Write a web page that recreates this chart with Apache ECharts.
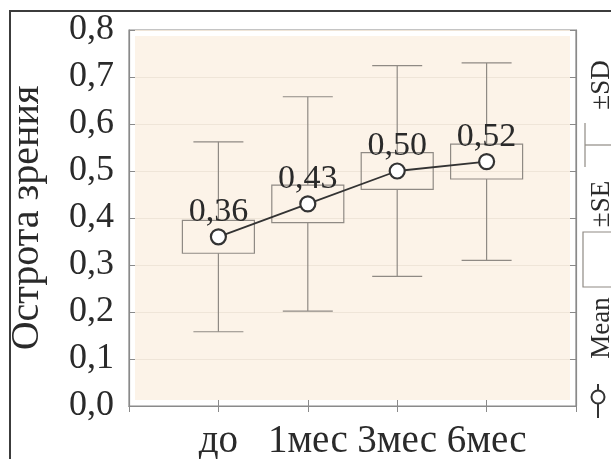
<!DOCTYPE html>
<html>
<head>
<meta charset="utf-8">
<script src="https://cdn.jsdelivr.net/npm/echarts@6/dist/echarts.min.js"></script>
<style>
  html, body { margin: 0; padding: 0; background: #ffffff; }
  #chart { width: 611px; height: 459px; }
</style>
</head>
<body>
<div id="chart"></div>
<script>
// Visual acuity by follow-up point: mean, standard error box and standard deviation whiskers
const categories = ['до', '1мес', '3мес', '6мес'];
const means = [0.36, 0.43, 0.50, 0.52];
const seValues = [0.035, 0.040, 0.039, 0.037];
const sdValues = [0.202, 0.228, 0.224, 0.210];
const yTicks = [0.0, 0.1, 0.2, 0.3, 0.4, 0.5, 0.6, 0.7, 0.8];

const FONT = '"Liberation Serif", "Times New Roman", serif';
const TEXT = '#2a2a2a';
const FRAME = '#8a8a8a';
const BOX = '#8f8a84';

// padded category list so the four groups sit on inner tick positions
const axisCats = [''].concat(categories, ['']);

const statsData = categories.map((c, i) => [c, means[i], seValues[i], sdValues[i]]);
const meanData = categories.map((c, i) => [c, means[i]]);

const fmt1 = v => Number(v).toFixed(1).replace('.', ',');
const fmt2 = v => Number(v).toFixed(2).replace('.', ',');

function renderStats(params, api) {
  const x = api.value(0);
  const m = api.value(1);
  const se = api.value(2);
  const sd = api.value(3);
  const boxHalf = 36;
  const capHalf = 25;
  const pTop = api.coord([x, m + sd]);
  const pBot = api.coord([x, m - sd]);
  const bTop = api.coord([x, m + se]);
  const bBot = api.coord([x, m - se]);
  const cx = pTop[0];
  const style = { stroke: BOX, lineWidth: 1.2, fill: null };
  return {
    type: 'group',
    children: [
      { type: 'line', shape: { x1: cx, y1: pTop[1], x2: cx, y2: bTop[1] }, style },
      { type: 'line', shape: { x1: cx, y1: bBot[1], x2: cx, y2: pBot[1] }, style },
      { type: 'line', shape: { x1: cx - capHalf, y1: pTop[1], x2: cx + capHalf, y2: pTop[1] }, style },
      { type: 'line', shape: { x1: cx - capHalf, y1: pBot[1], x2: cx + capHalf, y2: pBot[1] }, style },
      { type: 'rect', shape: { x: cx - boxHalf, y: bTop[1], width: boxHalf * 2, height: bBot[1] - bTop[1] }, style }
    ]
  };
}

const chart = echarts.init(document.getElementById('chart'), null, { renderer: 'canvas' });

const tickStyle = { show: true, inside: true, length: 6, lineStyle: { color: FRAME, width: 1 } };

chart.setOption({
  backgroundColor: '#ffffff',
  animation: false,
  grid: {
    left: 129, top: 30, right: 35, bottom: 53,
    outerBoundsMode: 'none', containLabel: false,
    show: true, borderColor: FRAME, borderWidth: 1.2, backgroundColor: 'transparent'
  },
  graphic: [
    // outer frame of the figure
    { type: 'rect', shape: { x: 10, y: 11, width: 700, height: 500 },
      style: { fill: null, stroke: '#3c3c3c', lineWidth: 2 }, z: 0 },
    // tinted plotting field
    { type: 'rect', shape: { x: 135, y: 36, width: 435, height: 364 },
      style: { fill: '#fcf3e8' }, z: -1, silent: true },
    // legend: SD whisker
    { type: 'line', shape: { x1: 585, y1: 123, x2: 585, y2: 167 }, style: { stroke: BOX, lineWidth: 1.2 } },
    { type: 'line', shape: { x1: 585, y1: 145, x2: 612, y2: 145 }, style: { stroke: BOX, lineWidth: 1.2 } },
    { type: 'text', x: 602, y: 85, rotation: Math.PI / 2,
      style: { text: '±SD', font: '27px ' + FONT, fill: TEXT, align: 'center', verticalAlign: 'middle' } },
    // legend: SE box
    { type: 'rect', shape: { x: 583, y: 232, width: 30, height: 55 }, style: { fill: '#ffffff', stroke: BOX, lineWidth: 1.2 } },
    { type: 'text', x: 602, y: 204, rotation: Math.PI / 2,
      style: { text: '±SE', font: '27px ' + FONT, fill: TEXT, align: 'center', verticalAlign: 'middle' } },
    // legend: mean marker
    { type: 'line', shape: { x1: 598, y1: 384, x2: 598, y2: 418 }, style: { stroke: '#333333', lineWidth: 2 } },
    { type: 'circle', shape: { cx: 598, cy: 397, r: 6.5 }, style: { fill: '#ffffff', stroke: '#333333', lineWidth: 2 } },
    { type: 'text', x: 602, y: 328, rotation: Math.PI / 2,
      style: { text: 'Mean', font: '27px ' + FONT, fill: TEXT, align: 'center', verticalAlign: 'middle' } }
  ],
  xAxis: [
    {
      type: 'category', data: axisCats, boundaryGap: false, position: 'bottom',
      axisLine: { show: true, lineStyle: { color: FRAME, width: 1.2 } },
      axisTick: Object.assign({ interval: 0 }, tickStyle),
      axisLabel: { interval: 0, margin: 16, color: TEXT, fontFamily: FONT, fontSize: 39 },
      splitLine: { show: false }
    },
    {
      type: 'category', data: axisCats, boundaryGap: false, position: 'top',
      axisLine: { show: true, lineStyle: { color: FRAME, width: 1.2 } },
      axisTick: Object.assign({ interval: 0 }, tickStyle),
      axisLabel: { show: false },
      splitLine: { show: false }
    }
  ],
  yAxis: [
    {
      type: 'value', min: yTicks[0], max: yTicks[yTicks.length - 1], interval: 0.1, position: 'left',
      name: 'Острота зрения', nameLocation: 'middle', nameRotate: 90, nameGap: 82,
      nameTextStyle: { color: TEXT, fontFamily: FONT, fontSize: 40 },
      axisLine: { show: true, lineStyle: { color: FRAME, width: 1.2 } },
      axisTick: tickStyle,
      axisLabel: { margin: 15, color: TEXT, fontFamily: FONT, fontSize: 36, formatter: fmt1 },
      splitLine: { show: true, lineStyle: { color: '#efe5d8', width: 1 } }
    },
    {
      type: 'value', min: yTicks[0], max: yTicks[yTicks.length - 1], interval: 0.1, position: 'right',
      axisLine: { show: true, lineStyle: { color: FRAME, width: 1.2 } },
      axisTick: tickStyle,
      axisLabel: { show: false },
      splitLine: { show: false }
    }
  ],
  series: [
    {
      type: 'custom',
      xAxisIndex: 0, yAxisIndex: 0,
      renderItem: renderStats,
      encode: { x: 0, y: [1] },
      data: statsData,
      z: 2
    },
    {
      type: 'line',
      xAxisIndex: 0, yAxisIndex: 0,
      data: meanData,
      symbol: 'circle', symbolSize: 15,
      lineStyle: { color: '#333333', width: 1.8 },
      itemStyle: { color: '#ffffff', borderColor: '#333333', borderWidth: 2.2 },
      label: {
        show: true, position: 'top', distance: -1,
        color: TEXT, fontFamily: FONT, fontSize: 34,
        formatter: p => fmt2(p.value[1])
      },
      z: 3
    }
  ]
});
</script>
</body>
</html>
